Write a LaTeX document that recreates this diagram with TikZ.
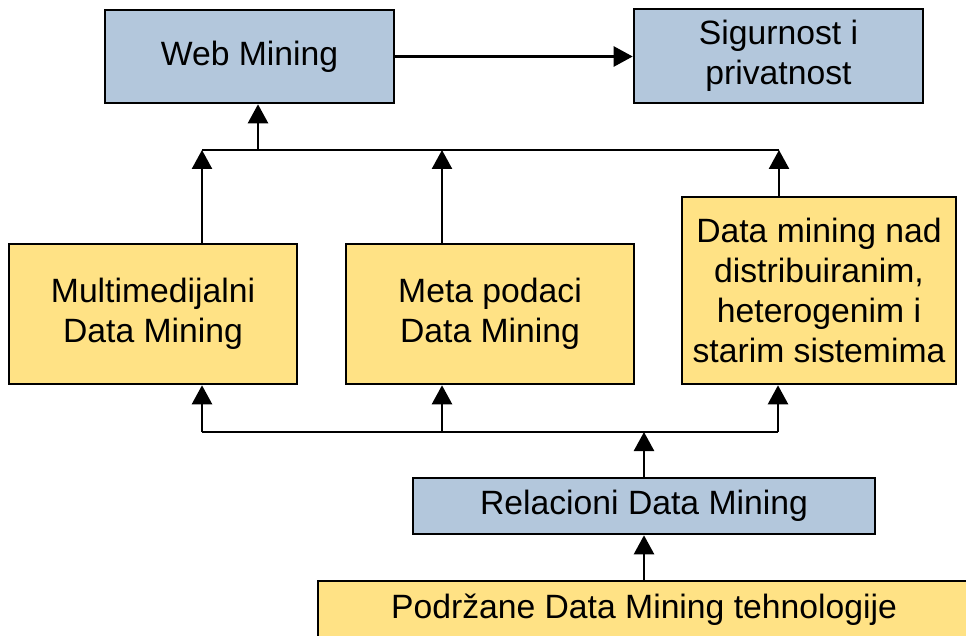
\documentclass[tikz,border=0pt]{standalone}
\usepackage{fontspec}
\setmainfont{Liberation Sans}
\usetikzlibrary{arrows.meta}
\definecolor{boxblue}{HTML}{B3C7DC}
\definecolor{boxyellow}{HTML}{FFE285}
\begin{document}
\begin{tikzpicture}[x=1pt,y=-1pt,
  box/.style={draw=black,line width=2.6pt,inner sep=0pt,align=center,
    font=\fontsize{33.7}{40}\selectfont},
  bluebox/.style={box,fill=boxblue},
  yellowbox/.style={box,fill=boxyellow},
  conn/.style={line width=2.5pt,draw=black},
  arr/.style={conn,-{Triangle[length=19pt,width=20pt]}}]
\useasboundingbox (0,0) rectangle (966,636);
\clip (0,0) rectangle (966,636);
\node[bluebox,minimum width=289pt,minimum height=93pt] (web) at (249.5,56.5) {Web Mining};
\node[bluebox,minimum width=289pt,minimum height=94pt] (sig) at (778.5,56) {Sigurnost i\\privatnost};
\node[yellowbox,minimum width=288pt,minimum height=140pt] (multi) at (153,314) {Multimedijalni\\Data Mining};
\node[yellowbox,minimum width=288pt,minimum height=140pt] (meta) at (490,314) {Meta podaci\\Data Mining};
\node[yellowbox,minimum width=274pt,minimum height=187pt] (dmn) at (819,290.5) {Data mining nad\\distribuiranim,\\heterogenim i\\starim sistemima};
\node[bluebox,minimum width=462pt,minimum height=56pt] (rel) at (644,506) {Relacioni Data Mining};
\node[yellowbox,minimum width=652pt,minimum height=58pt] (pod) at (644,610) {Podržane Data Mining tehnologije};
% top bus
\coordinate (tb1) at (202,150);
\coordinate (tb2) at (442,150);
\coordinate (tb3) at (779,150);
\coordinate (tbw) at (258,150);
% bottom bus
\coordinate (bb1) at (202,432);
\coordinate (bb2) at (442,432);
\coordinate (bb3) at (778,432);
\coordinate (bbr) at (644,432);
\draw[arr] (web.east) -- (sig.west |- web.east);
\draw[conn] (tb1) -- (tb3);
\draw[arr] (multi.north -| tb1) -- (tb1);
\draw[arr] (meta.north -| tb2) -- (tb2);
\draw[arr] (dmn.north -| tb3) -- (tb3);
\draw[arr] (tbw) -- (web.south -| tbw);
\draw[conn] (bb1) -- (bb3);
\draw[arr] (bb1) -- (multi.south -| bb1);
\draw[arr] (bb2) -- (meta.south -| bb2);
\draw[arr] (bb3) -- (dmn.south -| bb3);
\draw[arr] (rel.north) -- (bbr);
\draw[arr] (pod.north) -- (rel.south);
\end{tikzpicture}
\end{document}
